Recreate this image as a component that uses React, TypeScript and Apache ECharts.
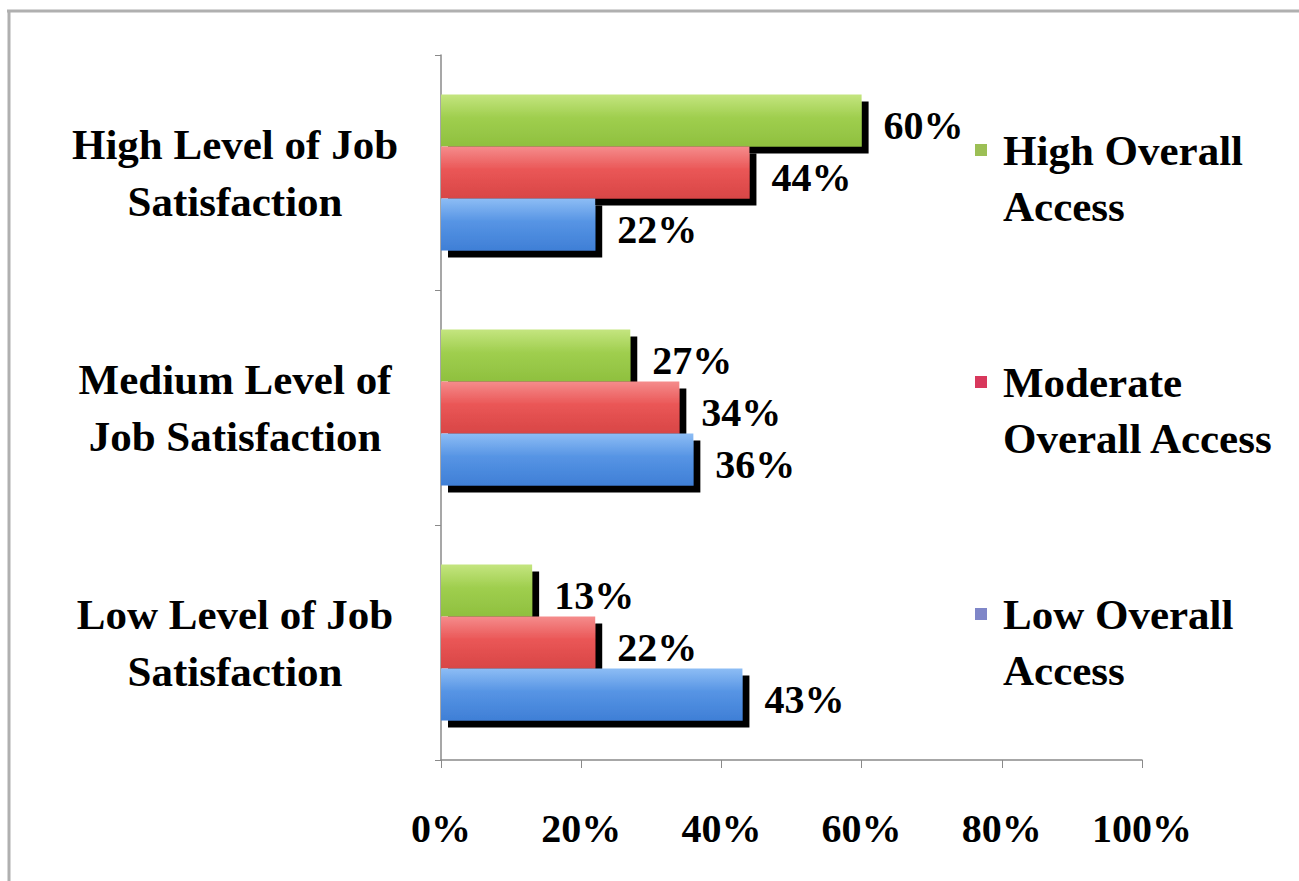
import React, { useEffect, useRef } from "react";
import * as echarts from "echarts";

const categories = [
  "Low Level of Job\nSatisfaction",
  "Medium Level of\nJob Satisfaction",
  "High Level of Job\nSatisfaction",
];
const seriesNames = ["High Overall Access", "Moderate Overall Access", "Low Overall Access"];
const legendLabels = ["High Overall\nAccess", "Moderate\nOverall Access", "Low Overall\nAccess"];
const highAccess = [13, 27, 60];
const moderateAccess = [22, 34, 44];
const lowAccess = [43, 36, 22];
const xTicks = [0, 20, 40, 60, 80, 100];

const FONT = "'Liberation Serif', 'DejaVu Serif', serif";

function grad(stops: string[]) {
  return new echarts.graphic.LinearGradient(0, 0, 0, 1, [
    { offset: 0, color: stops[0] },
    { offset: 0.45, color: stops[1] },
    { offset: 1, color: stops[2] },
  ]);
}

export default function App() {
  const ref = useRef<HTMLDivElement>(null);
  useEffect(() => {
    document.body.style.margin = "0";
    const chart = echarts.init(ref.current!, null, { renderer: "svg" });
    const barColors = [
      ["#c4e57f", "#9fce4e", "#8fc03f"],
      ["#f58c8c", "#ea5656", "#d84646"],
      ["#8dbdf5", "#5694e4", "#3f7fd6"],
    ];
    const legendColors = ["#9cbf55", "#d8385c", "#7f86c8"];
    const values = [highAccess, moderateAccess, lowAccess];
    const series = seriesNames.map((name, i) => ({
      name,
      type: "bar",
      data: values[i],
      barWidth: 52,
      barGap: "0%",
      z: 2 + i,
      itemStyle: {
        color: grad(barColors[i]),
        shadowColor: "#000",
        shadowBlur: 0,
        shadowOffsetX: 7,
        shadowOffsetY: 7,
      },
      label: {
        show: true,
        position: "right",
        distance: 22,
        offset: [0, 5],
        formatter: "{c}%",
        fontFamily: FONT,
        fontWeight: "bold",
        fontSize: 40,
        color: "#000",
      },
    }));
    chart.setOption({
      animation: false,
      backgroundColor: "#fff",
      grid: { left: 441, top: 55, width: 701, height: 705 },
      legend: {
        orient: "vertical",
        left: 975,
        top: 66,
        padding: 0,
        itemGap: 64,
        itemWidth: 12,
        itemHeight: 12,
        icon: "rect",
        selectedMode: false,
        data: seriesNames.map((n, i) => ({ name: n, itemStyle: { color: legendColors[i] } })),
        formatter: (n: string) => "\n" + legendLabels[seriesNames.indexOf(n)],
        textStyle: {
          fontFamily: FONT,
          fontWeight: "bold",
          fontSize: 43,
          lineHeight: 56,
          color: "#000",
          padding: [0, 0, 0, 11],
        },
      },
      xAxis: {
        type: "value",
        min: 0,
        max: 100,
        interval: 20,
        splitLine: { show: false },
        axisLine: { show: true, lineStyle: { color: "#8a8a8a", width: 1.5 } },
        axisTick: { show: true, length: 8, lineStyle: { color: "#8a8a8a" } },
        axisLabel: {
          margin: 48,
          formatter: (v: number) => (xTicks.includes(v) ? v + "%" : ""),
          fontFamily: FONT,
          fontWeight: "bold",
          fontSize: 40,
          color: "#000",
        },
      },
      yAxis: {
        type: "category",
        data: categories,
        axisLine: { show: true, lineStyle: { color: "#8a8a8a", width: 1.5 } },
        axisTick: { show: true, length: 6, lineStyle: { color: "#8a8a8a" } },
        axisLabel: {
          margin: 206,
          align: "center",
          fontFamily: FONT,
          fontWeight: "bold",
          fontSize: 43,
          lineHeight: 57,
          color: "#000",
          padding: [20, 0, 0, 0],
        },
      },
      graphic: [
        { type: "line", shape: { x1: 7, y1: 11, x2: 1299, y2: 11 }, style: { stroke: "#b0b0b0", lineWidth: 3 } },
        { type: "line", shape: { x1: 9, y1: 10, x2: 9, y2: 881 }, style: { stroke: "#b0b0b0", lineWidth: 3 } },
      ],
      series,
    });
    return () => chart.dispose();
  }, []);
  return <div ref={ref} style={{ width: 1299, height: 881 }} />;
}
